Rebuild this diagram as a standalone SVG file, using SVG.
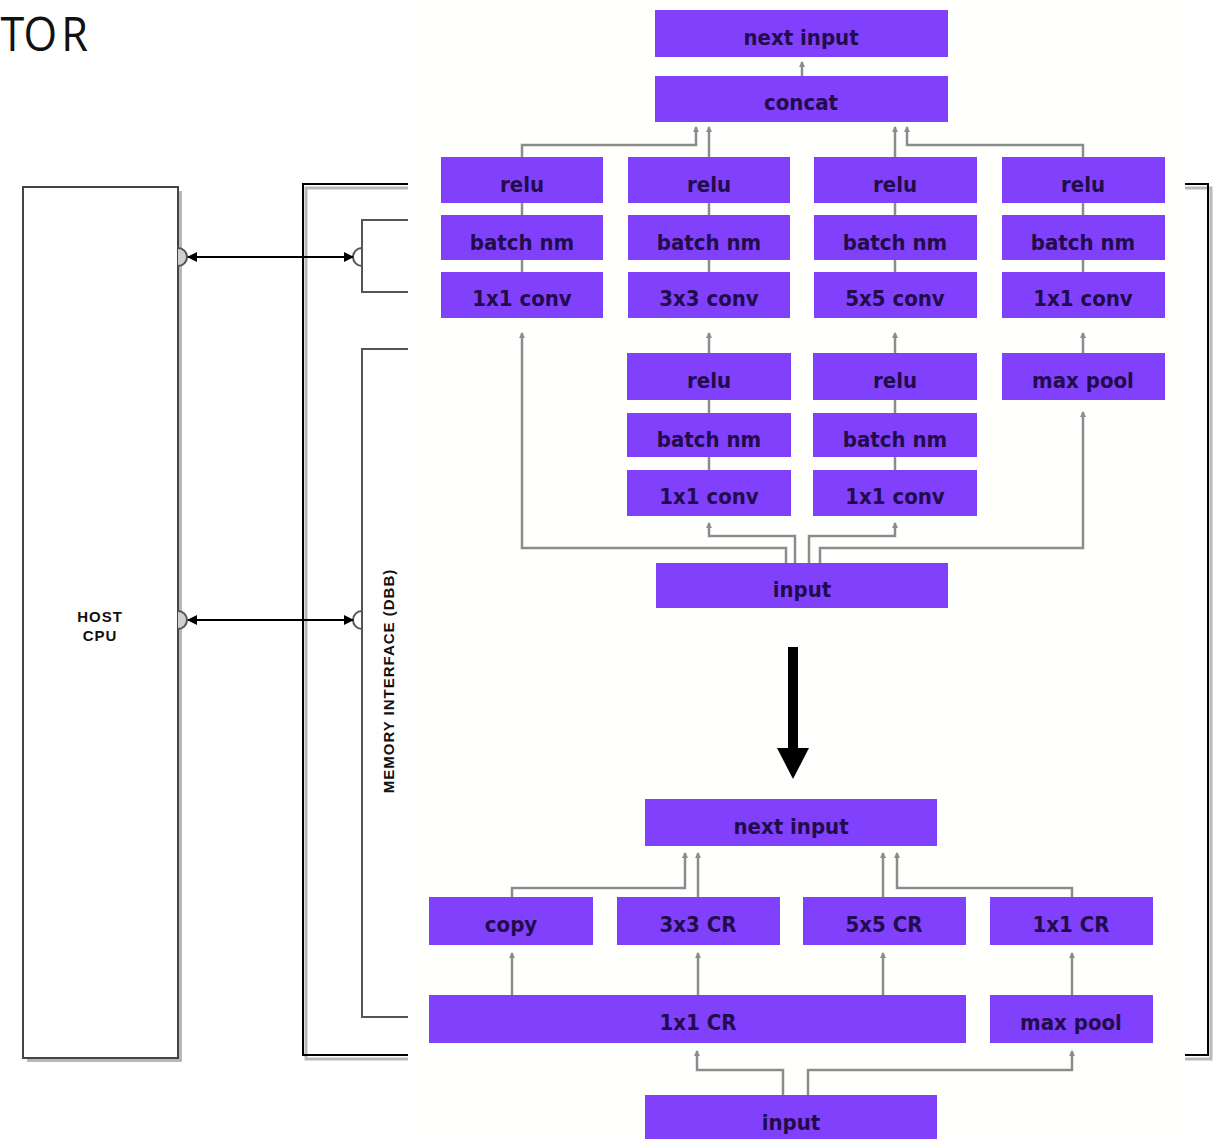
<svg xmlns="http://www.w3.org/2000/svg" width="1217" height="1139" viewBox="0 0 1217 1139">
<defs>
<style>
.box{fill:#8040fc}
.lbl{font-family:"DejaVu Sans Condensed","DejaVu Sans",sans-serif;font-stretch:condensed;font-weight:bold;font-size:22px;fill:#230c4c;text-anchor:middle}
.con{fill:none;stroke:#8c8c8c;stroke-width:2.5}
.blk{fill:none;stroke:#000;stroke-width:2}
.cap{font-family:"Liberation Sans",Arial,sans-serif;font-weight:bold;font-size:15px;letter-spacing:1px;fill:#111;text-anchor:middle}
</style>
<marker id="ga" viewBox="0 0 6 6" refX="5" refY="3" markerWidth="6" markerHeight="6" markerUnits="userSpaceOnUse" orient="auto">
<path d="M0,0 L6,3 L0,6 z" fill="#8c8c8c"/>
</marker>
<marker id="ba" viewBox="0 0 10 10" refX="9" refY="5" markerWidth="10" markerHeight="10" markerUnits="userSpaceOnUse" orient="auto-start-reverse">
<path d="M0,0 L10,5 L0,10 z" fill="#000"/>
</marker>
</defs>
<rect width="1217" height="1139" fill="#fff"/>
<text x="0.5 26 68" y="51" transform="scale(0.9,1)" font-family="Open Sans, sans-serif" font-size="48" fill="#111">TOR</text>

<g id="host-cpu">
<rect x="27" y="191" width="155" height="871" fill="#b8b8b8"/>
<rect x="23" y="187" width="155" height="871" fill="#fff" stroke="#444" stroke-width="2"/>
<text class="cap" x="100" y="622">HOST</text>
<text class="cap" x="100" y="641">CPU</text>
</g>

<g id="accelerator-frame">
<rect x="306" y="188" width="905" height="871" fill="none" stroke="#b8b8b8" stroke-width="3"/>
<rect x="303" y="184" width="905" height="871" fill="none" stroke="#000" stroke-width="2"/>
<path d="M408,220 H362 V292 H408" fill="none" stroke="#555" stroke-width="2"/>
<path d="M408,349 H362 V1017 H408" fill="none" stroke="#555" stroke-width="2"/>
<text class="cap" transform="translate(394,681) rotate(-90)">MEMORY INTERFACE (DBB)</text>
</g>

<rect x="408" y="0" width="777" height="1139" fill="#fffffd"/>

<g id="connectors">
<path d="M178,248 A9,9 0 0 1 178,266" fill="#cfcfcf" stroke="#555" stroke-width="2"/>
<path d="M362,248 A9,9 0 0 0 362,266" fill="none" stroke="#555" stroke-width="2"/>
<path d="M178,611 A9,9 0 0 1 178,629" fill="#cfcfcf" stroke="#555" stroke-width="2"/>
<path d="M362,611 A9,9 0 0 0 362,629" fill="none" stroke="#555" stroke-width="2"/>
<line class="blk" x1="188" y1="257" x2="353" y2="257" marker-start="url(#ba)" marker-end="url(#ba)"/>
<line class="blk" x1="188" y1="620" x2="353" y2="620" marker-start="url(#ba)" marker-end="url(#ba)"/>

<path class="con" d="M802,76 V62" marker-end="url(#ga)"/>
<path class="con" d="M522,157 V145 H696 V127" marker-end="url(#ga)"/>
<path class="con" d="M709,157 V127" marker-end="url(#ga)"/>
<path class="con" d="M895,157 V127" marker-end="url(#ga)"/>
<path class="con" d="M1083,157 V145 H907 V127" marker-end="url(#ga)"/>
<path class="con" d="M522,203 V215 M522,260 V272 M709,203 V215 M709,260 V272 M895,203 V215 M895,260 V272 M1083,203 V215 M1083,260 V272"/>
<path class="con" d="M709,400 V413 M709,457 V470 M895,400 V413 M895,457 V470"/>
<path class="con" d="M709,353 V333" marker-end="url(#ga)"/>
<path class="con" d="M895,353 V333" marker-end="url(#ga)"/>
<path class="con" d="M1083,353 V333" marker-end="url(#ga)"/>
<path class="con" d="M786,563 V548 H522 V333" marker-end="url(#ga)"/>
<path class="con" d="M795,563 V536 H709 V523" marker-end="url(#ga)"/>
<path class="con" d="M809,563 V536 H895 V523" marker-end="url(#ga)"/>
<path class="con" d="M820,563 V548 H1083 V412" marker-end="url(#ga)"/>

<rect x="788" y="647" width="10" height="102" fill="#000"/>
<polygon points="777,748 809,748 793,779" fill="#000"/>

<path class="con" d="M512,897 V888 H685 V853" marker-end="url(#ga)"/>
<path class="con" d="M698,897 V853" marker-end="url(#ga)"/>
<path class="con" d="M883,897 V853" marker-end="url(#ga)"/>
<path class="con" d="M1072,897 V888 H897 V853" marker-end="url(#ga)"/>
<path class="con" d="M512,995 V953" marker-end="url(#ga)"/>
<path class="con" d="M698,995 V953" marker-end="url(#ga)"/>
<path class="con" d="M883,995 V953" marker-end="url(#ga)"/>
<path class="con" d="M1072,995 V953" marker-end="url(#ga)"/>
<path class="con" d="M783,1095 V1070 H697 V1051" marker-end="url(#ga)"/>
<path class="con" d="M808,1095 V1070 H1072 V1051" marker-end="url(#ga)"/>
</g>

<g id="t-next-input"><rect class="box" x="655" y="10" width="293" height="47"/><text class="lbl" x="801" y="45">next input</text></g>
<g id="t-concat"><rect class="box" x="655" y="76" width="293" height="46"/><text class="lbl" x="801" y="110">concat</text></g>

<g id="t-relu-1"><rect class="box" x="441" y="157" width="162" height="46"/><text class="lbl" x="522" y="192">relu</text></g>
<g id="t-relu-2"><rect class="box" x="628" y="157" width="162" height="46"/><text class="lbl" x="709" y="192">relu</text></g>
<g id="t-relu-3"><rect class="box" x="814" y="157" width="163" height="46"/><text class="lbl" x="895" y="192">relu</text></g>
<g id="t-relu-4"><rect class="box" x="1002" y="157" width="163" height="46"/><text class="lbl" x="1083" y="192">relu</text></g>

<g id="t-bn-1"><rect class="box" x="441" y="215" width="162" height="45"/><text class="lbl" x="522" y="250">batch nm</text></g>
<g id="t-bn-2"><rect class="box" x="628" y="215" width="162" height="45"/><text class="lbl" x="709" y="250">batch nm</text></g>
<g id="t-bn-3"><rect class="box" x="814" y="215" width="163" height="45"/><text class="lbl" x="895" y="250">batch nm</text></g>
<g id="t-bn-4"><rect class="box" x="1002" y="215" width="163" height="45"/><text class="lbl" x="1083" y="250">batch nm</text></g>

<g id="t-conv-1"><rect class="box" x="441" y="272" width="162" height="46"/><text class="lbl" x="522" y="306">1x1 conv</text></g>
<g id="t-conv-2"><rect class="box" x="628" y="272" width="162" height="46"/><text class="lbl" x="709" y="306">3x3 conv</text></g>
<g id="t-conv-3"><rect class="box" x="814" y="272" width="163" height="46"/><text class="lbl" x="895" y="306">5x5 conv</text></g>
<g id="t-conv-4"><rect class="box" x="1002" y="272" width="163" height="46"/><text class="lbl" x="1083" y="306">1x1 conv</text></g>

<g id="t-relu-5"><rect class="box" x="627" y="353" width="164" height="47"/><text class="lbl" x="709" y="388">relu</text></g>
<g id="t-relu-6"><rect class="box" x="813" y="353" width="164" height="47"/><text class="lbl" x="895" y="388">relu</text></g>
<g id="t-maxpool"><rect class="box" x="1002" y="353" width="163" height="47"/><text class="lbl" x="1083" y="388">max pool</text></g>
<g id="t-bn-5"><rect class="box" x="627" y="413" width="164" height="44"/><text class="lbl" x="709" y="447">batch nm</text></g>
<g id="t-bn-6"><rect class="box" x="813" y="413" width="164" height="44"/><text class="lbl" x="895" y="447">batch nm</text></g>
<g id="t-conv-5"><rect class="box" x="627" y="470" width="164" height="46"/><text class="lbl" x="709" y="504">1x1 conv</text></g>
<g id="t-conv-6"><rect class="box" x="813" y="470" width="164" height="46"/><text class="lbl" x="895" y="504">1x1 conv</text></g>

<g id="t-input"><rect class="box" x="656" y="563" width="292" height="45"/><text class="lbl" x="802" y="597">input</text></g>

<g id="b-next-input"><rect class="box" x="645" y="799" width="292" height="47"/><text class="lbl" x="791" y="834">next input</text></g>
<g id="b-copy"><rect class="box" x="429" y="897" width="164" height="48"/><text class="lbl" x="511" y="932">copy</text></g>
<g id="b-3x3cr"><rect class="box" x="617" y="897" width="163" height="48"/><text class="lbl" x="698" y="932">3x3 CR</text></g>
<g id="b-5x5cr"><rect class="box" x="803" y="897" width="163" height="48"/><text class="lbl" x="884" y="932">5x5 CR</text></g>
<g id="b-1x1cr-top"><rect class="box" x="990" y="897" width="163" height="48"/><text class="lbl" x="1071" y="932">1x1 CR</text></g>
<g id="b-1x1cr"><rect class="box" x="429" y="995" width="537" height="48"/><text class="lbl" x="698" y="1030">1x1 CR</text></g>
<g id="b-maxpool"><rect class="box" x="990" y="995" width="163" height="48"/><text class="lbl" x="1071" y="1030">max pool</text></g>
<g id="b-input"><rect class="box" x="645" y="1095" width="292" height="46"/><text class="lbl" x="791" y="1130">input</text></g>
</svg>
